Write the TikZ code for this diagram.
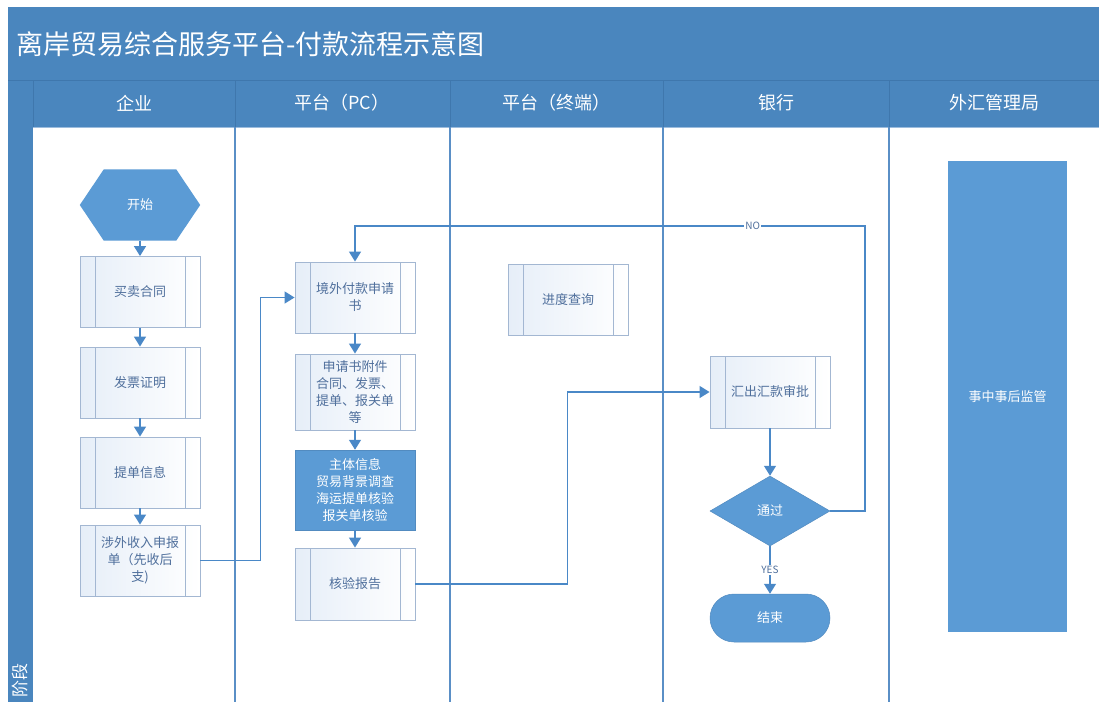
\documentclass[tikz,border=0pt]{standalone}
\usepackage{fontspec}
\setmainfont{Noto Sans CJK SC}
\usetikzlibrary{arrows.meta,shapes.geometric,shapes.misc,calc}
\definecolor{band}{HTML}{4A86BE}
\definecolor{bandline}{HTML}{3F77AD}
\definecolor{lanel}{HTML}{5A8FC6}
\definecolor{fillb}{HTML}{5B9BD5}
\definecolor{boxb}{HTML}{A3B7D2}
\definecolor{boxf}{HTML}{E6EEF8}
\definecolor{boxt}{HTML}{4F6F9C}
\definecolor{conn}{HTML}{4A88C7}
\tikzset{
  sub/.style={draw=boxb, line width=0.9pt, left color=boxf, right color=white, minimum width=120pt, minimum height=71pt,
    text=boxt, font=\fontsize{13}{17}\selectfont, align=center, inner sep=0pt,
    path picture={
      \draw[boxb, line width=0.9pt] ([xshift=15pt]path picture bounding box.north west) -- ([xshift=15pt]path picture bounding box.south west);
      \draw[boxb, line width=0.9pt] ([xshift=-15pt]path picture bounding box.north east) -- ([xshift=-15pt]path picture bounding box.south east);
    }},
  solid box/.style={fill=fillb, draw=fillb!90!black, line width=0.5pt, text=white, align=center, inner sep=0pt,
    font=\fontsize{13}{17}\selectfont},
  arr/.style={draw=conn, line width=1.4pt, -{Triangle[width=12pt,length=10pt]}},
  hdr/.style={text=white, font=\fontsize{18}{22}\selectfont},
  lbl/.style={fill=white, inner sep=1pt, text=boxt, font=\fontsize{10}{12}\selectfont},
  lane/.style={draw=lanel, line width=2pt}
}
\begin{document}
\begin{tikzpicture}[x=1pt,y=-1pt]
\useasboundingbox (0,0) rectangle (1099,702);
\fill[white] (0,0) rectangle (1099,702);
% title band
\fill[band] (8,7) rectangle (1099,80);
\node[anchor=west, text=white, font=\fontsize{27}{32}\selectfont] (title) at (13,44) {离岸贸易综合服务平台-付款流程示意图};
% header row and left strip
\fill[band] (8,80) rectangle (1099,127);
\fill[band] (8,80) rectangle (33,702);
\draw[bandline, line width=1pt] (8,80) -- (1099,80);
\draw[bandline, line width=1pt] (33,80) -- (33,127);
\foreach \x in {235,450,663,889} \draw[bandline, line width=1pt] (\x,80) -- (\x,127);
\draw[lanel!60, line width=1pt] (33,127.5) -- (1099,127.5);
% lane separators
\foreach \x in {235,450,663,889} \draw[lane] (\x,127) -- (\x,702);
% headers
\node[hdr] (h1) at (134,103) {企业};
\node[hdr] (h2) at (342,103) {平台（PC）};
\node[hdr] (h3) at (556,103) {平台（终端）};
\node[hdr] (h4) at (776,103) {银行};
\node[hdr] (h5) at (994,103) {外汇管理局};
\node[text=white, font=\fontsize{17}{20}\selectfont, rotate=90] (stage) at (20,680) {阶段};
% start hexagon
\node[minimum width=120pt, minimum height=71pt, inner sep=0pt] (start) at (140,205) {};
\fill[fillb] (start.west) -- ($(start.north west)+(24,0)$) -- ($(start.north east)+(-24,0)$) -- (start.east)
  -- ($(start.south east)+(-24,0)$) -- ($(start.south west)+(24,0)$) -- cycle;
\node[text=white, font=\fontsize{13}{17}\selectfont] at (start.center) {开始};
% enterprise lane
\node[sub] (mm) at (140,292) {买卖合同};
\node[sub] (fp) at (140,382.5) {发票证明};
\node[sub] (td) at (140,472.5) {提单信息};
\node[sub] (sw) at (140,560.5) {涉外收入申报\\单（先收后\\支)};
% platform PC lane
\node[sub] (jw) at (355,297.5) {境外付款申请\\书};
\node[sub, minimum height=76pt] (fj) at (355,392) {申请书附件\\合同、发票、\\提单、报关单\\等};
\node[solid box, minimum width=120pt, minimum height=80pt] (zt) at (355,490) {主体信息\\贸易背景调查\\海运提单核验\\报关单核验};
\node[sub, minimum height=72pt] (hy) at (355,584) {核验报告};
% terminal lane
\node[sub] (jd) at (568,299.5) {进度查询};
% bank lane
\node[sub, minimum height=72pt] (hc) at (770,392) {汇出汇款审批};
\node[solid box, shape=diamond, minimum width=120pt, minimum height=70pt] (tg) at (770,511) {通过};
\node[solid box, rounded rectangle, minimum width=120pt, minimum height=48pt] (end) at (770,618) {结束};
% SAFE lane
\node[solid box, draw=none, minimum width=119pt, minimum height=471pt] (jg) at (1007.5,396.5) {事中事后监管};
% connectors
\draw[arr] (start) -- (mm);
\draw[arr] (mm) -- (fp);
\draw[arr] (fp) -- (td);
\draw[arr] (td) -- (sw);
\draw[arr] (sw.east) -- ++(60,0) |- (jw.west);
\draw[arr] (jw) -- (fj);
\draw[arr] (fj) -- (zt);
\draw[arr] (zt) -- (hy);
\draw[arr] (hy.east) -- ++(152,0) |- (hc.west);
\draw[arr] (hc) -- (tg);
\coordinate (nocorner) at (865,226);
\draw[arr] (tg.east) -| (nocorner) -| (jw.north) node[lbl, pos=0.11] {NO};
\draw[arr] (tg) -- node[lbl] {YES} (end);
\end{tikzpicture}
\end{document}
